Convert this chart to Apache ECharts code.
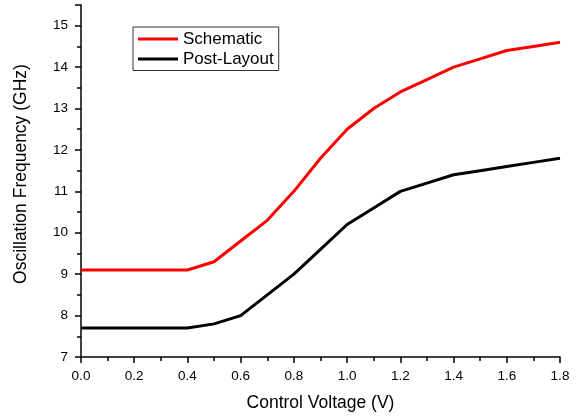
<!DOCTYPE html>
<html><head><meta charset="utf-8">
<script src="https://cdn.jsdelivr.net/npm/echarts@6/dist/echarts.min.js"></script>
<style>html,body{margin:0;padding:0;background:#fff}#c{width:579px;height:417px}</style>
</head><body><div id="c"></div>
<script>
const voltage = [0.0,0.1,0.2,0.3,0.4,0.5,0.6,0.7,0.8,0.9,1.0,1.1,1.2,1.3,1.4,1.5,1.6,1.7,1.8];
const schematic = [9.1,9.1,9.1,9.1,9.1,9.3,9.8,10.3,11.0,11.8,12.5,13.0,13.4,13.7,14.0,14.2,14.4,14.5,14.6];
const postLayout = [7.7,7.7,7.7,7.7,7.7,7.8,8.0,8.5,9.0,9.6,10.2,10.6,11.0,11.2,11.4,11.5,11.6,11.7,11.8];
const seriesNames = ['Schematic','Post-Layout'];
const font = '"Liberation Sans", Arial, sans-serif';
const chart = echarts.init(document.getElementById('c'));
const pair = (ys) => voltage.map((x,i)=>[x,ys[i]]);
chart.setOption({
  animation:false,
  textStyle:{fontFamily:font,color:'#000'},
  grid:{left:81,right:19,top:5,bottom:60,containLabel:false},
  legend:{
    left:133,top:27,orient:'vertical',
    icon:'rect',
    itemWidth:40,itemHeight:3,itemGap:3,
    padding:[3.5,5,3,5],
    borderColor:'#333',borderWidth:1,
    textStyle:{fontFamily:font,fontSize:17,color:'#000'},
    data:seriesNames
  },
  xAxis:{
    type:'value',min:0,max:1.8,interval:0.2,
    name:'Control Voltage (V)',nameLocation:'middle',nameGap:37,
    nameTextStyle:{fontFamily:font,fontSize:17.5,color:'#000'},
    axisLine:{lineStyle:{color:'#000',width:1.5}},
    axisTick:{show:true,length:6,lineStyle:{color:'#000',width:1.5}},
    minorTick:{show:true,splitNumber:2,length:4,lineStyle:{color:'#000',width:1.5}},
    axisLabel:{fontFamily:font,fontSize:13.5,color:'#000',margin:12,formatter:v=>v.toFixed(1)},
    splitLine:{show:false}
  },
  yAxis:{
    type:'value',min:7,max:15.5,interval:1,
    name:'Oscillation Frequency (GHz)',nameLocation:'middle',nameGap:51,
    nameTextStyle:{fontFamily:font,fontSize:17.5,color:'#000',padding:[0,0,0,14]},
    axisLine:{lineStyle:{color:'#000',width:1.5}},
    axisTick:{show:true,length:6,lineStyle:{color:'#000',width:1.5}},
    minorTick:{show:true,splitNumber:2,length:4,lineStyle:{color:'#000',width:1.5}},
    axisLabel:{fontFamily:font,fontSize:13.5,color:'#000',margin:13,showMaxLabel:false,
      formatter:v=>(Number.isInteger(v)?String(v):'')},
    splitLine:{show:false}
  },
  series:[
    {name:seriesNames[0],type:'line',data:pair(schematic),symbol:'none',
     lineStyle:{color:'#ff0000',width:3},itemStyle:{color:'#ff0000'}},
    {name:seriesNames[1],type:'line',data:pair(postLayout),symbol:'none',
     lineStyle:{color:'#000',width:3},itemStyle:{color:'#000'}}
  ]
});
</script></body></html>
